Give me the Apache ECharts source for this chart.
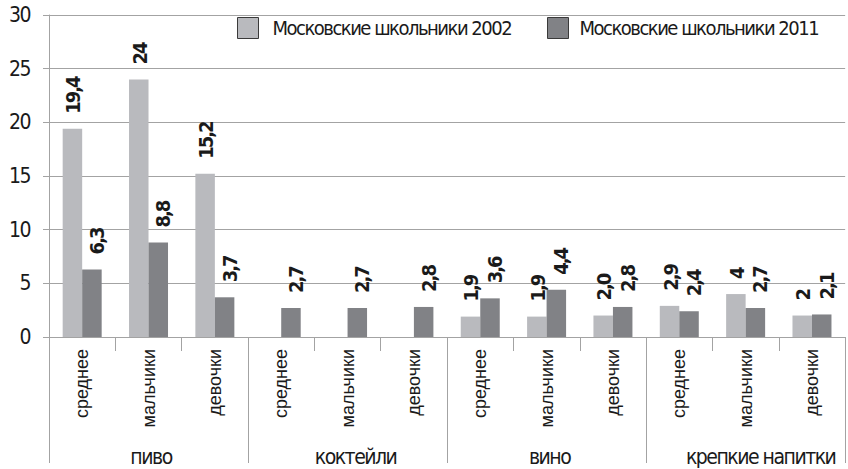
<!DOCTYPE html>
<html>
<head>
<meta charset="utf-8">
<script src="https://cdn.jsdelivr.net/npm/echarts@6/dist/echarts.min.js"></script>
<style>
html,body{margin:0;padding:0;background:#fff;}
#c{width:848px;height:469px;}
#c text[style*="Condensed"]{letter-spacing:-1.5px;}
#c text[style*="Condensed"][style*="bold"]{letter-spacing:-2px;}
</style>
</head>
<body>
<div id="c"></div>
<script>
const subCategories = ['среднее','мальчики','девочки','среднее','мальчики','девочки','среднее','мальчики','девочки','среднее','мальчики','девочки'];
const groups = ['пиво','коктейли','вино','крепкие напитки'];
const seriesNames = ['Московские школьники 2002','Московские школьники 2011'];
const values2002 = [19.4, 24, 15.2, null, null, null, 1.9, 1.9, 2.0, 2.9, 4, 2];
const values2011 = [6.3, 8.8, 3.7, 2.7, 2.7, 2.8, 3.6, 4.4, 2.8, 2.4, 2.7, 2.1];
const labels2002 = ['19,4','24','15,2','','','','1,9','1,9','2,0','2,9','4','2'];
const labels2011 = ['6,3','8,8','3,7','2,7','2,7','2,8','3,6','4,4','2,8','2,4','2,7','2,1'];
const yTicks = [0, 5, 10, 15, 20, 25, 30];

const NARROW = 'DejaVu Sans Condensed';
const SANS = 'Liberation Sans, Arial, sans-serif';
const AXISC = '#a3a3a3';
const colLight = '#b9babe';
const colDark = '#818286';

function barLabel(texts, dx){
  return {
    show: true,
    position: 'top',
    distance: 15,
    rotate: 90,
    align: 'left',
    verticalAlign: 'middle',
    offset: [0, dx],
    fontFamily: NARROW,
    fontWeight: 'bold',
    fontSize: 20,
    color: '#1a1a1a',
    formatter: p => texts[p.dataIndex]
  };
}

function legendItem(name, left, pad){
  return {
    left: left, top: 12,
    itemWidth: 21, itemHeight: 21,
    icon: 'rect',
    itemStyle: {borderColor: '#3a3a3a', borderWidth: 1},
    textStyle: {fontFamily: NARROW, fontSize: 20, color: '#1a1a1a', padding: [0,0,0,pad]},
    data: [name]
  };
}

const groupPads = [5, 16, 6, 30];
const groupRich = {};
groupPads.forEach((p, i) => { groupRich['g' + i] = {padding: [0, 0, 0, p], fontFamily: NARROW, fontSize: 21, color: '#1a1a1a'}; });

const chart = echarts.init(document.getElementById('c'), null, {renderer:'svg'});
chart.setOption({
  animation: false,
  backgroundColor: '#fff',
  legend: [legendItem(seriesNames[0], 232, 9), legendItem(seriesNames[1], 542, 6)],
  grid: {left: 49, top: 15, bottom: 132, right: -10, containLabel: false},
  xAxis: [
    {
      type: 'category',
      data: subCategories,
      position: 'bottom',
      axisLine: {show: true, lineStyle: {color: AXISC, width: 1}},
      axisTick: {show: true, length: 14, interval: 0, lineStyle: {color: AXISC}},
      axisLabel: {interval: 0, rotate: 90, margin: 12, fontFamily: SANS, fontSize: 18, color: '#1a1a1a'},
      splitLine: {show: false}
    },
    {
      type: 'category',
      data: groups,
      position: 'bottom',
      axisLine: {show: false},
      axisTick: {show: true, length: 126, interval: 0, lineStyle: {color: AXISC}},
      axisLabel: {interval: 0, margin: 109, fontFamily: NARROW, fontSize: 21, color: '#1a1a1a',
        formatter: (v, i) => '{g' + i + '|' + v + '}', rich: groupRich},
      splitLine: {show: false}
    }
  ],
  yAxis: {
    type: 'value',
    min: 0, max: 30, interval: 5,
    axisLine: {show: true, lineStyle: {color: AXISC}},
    axisTick: {show: true, length: 6, lineStyle: {color: AXISC}},
    axisLabel: {margin: 19, fontFamily: NARROW, fontSize: 21, color: '#1a1a1a',
      formatter: v => yTicks.includes(v) ? String(v) : ''},
    splitLine: {show: true, lineStyle: {color: AXISC, width: 1}}
  },
  series: [
    {
      name: seriesNames[0], type: 'bar', xAxisIndex: 0,
      data: values2002, barWidth: 19.5, barGap: '0%',
      itemStyle: {color: colLight},
      label: barLabel(labels2002, 1)
    },
    {
      name: seriesNames[1], type: 'bar', xAxisIndex: 0,
      data: values2011, barWidth: 19.5, barGap: '0%',
      itemStyle: {color: colDark},
      label: barLabel(labels2011, 5)
    }
  ]
});
</script>
</body>
</html>
